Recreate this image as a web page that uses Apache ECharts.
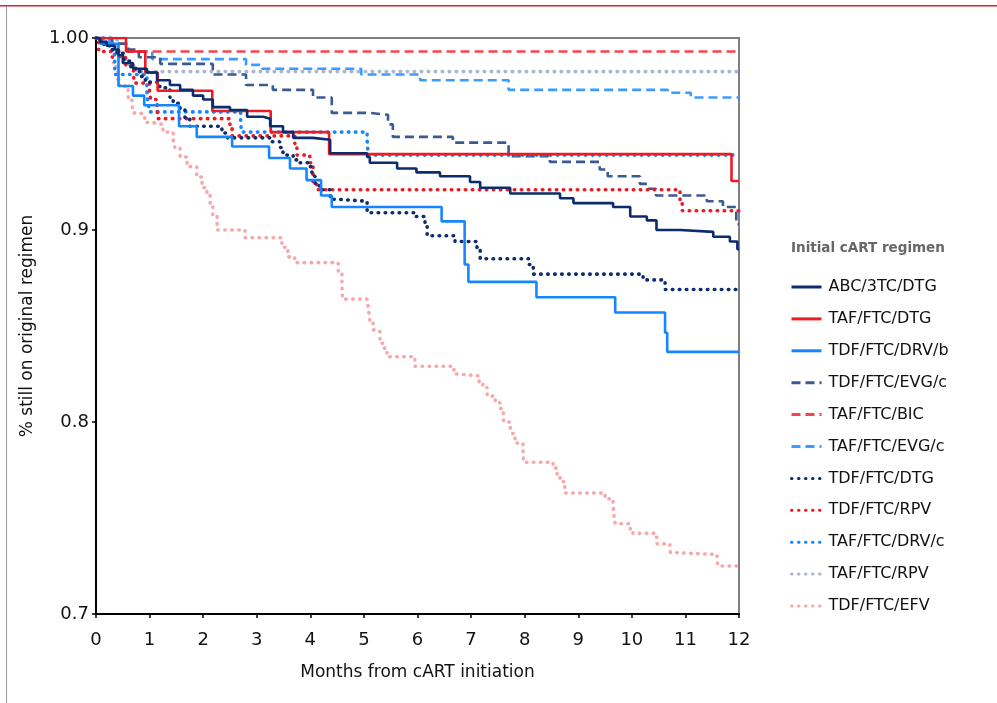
<!DOCTYPE html>
<html><head><meta charset="utf-8">
<script src="https://cdn.jsdelivr.net/npm/echarts@6/dist/echarts.min.js"></script>
<style>html,body{margin:0;padding:0;background:#fff}#c{width:997px;height:703px}</style>
</head><body><div id="c"></div>
<script>
// Data: [month, proportion still on original regimen]
const xTicks = [0,1,2,3,4,5,6,7,8,9,10,11,12];
const yTicks = [0.7,0.8,0.9,1.0];
const regimenNames = ['ABC/3TC/DTG','TAF/FTC/DTG','TDF/FTC/DRV/b','TDF/FTC/EVG/c','TAF/FTC/BIC','TAF/FTC/EVG/c','TDF/FTC/DTG','TDF/FTC/RPV','TAF/FTC/DRV/c','TAF/FTC/RPV','TDF/FTC/EFV'];

const abc3tcDtg = [[0,1],[0.07,0.998],[0.2,0.996],[0.35,0.994],[0.42,0.991],[0.5,0.987],[0.69,0.984],[0.95,0.982],[1.14,0.978],[1.38,0.9755],[1.57,0.973],[1.81,0.970],[2.0,0.968],[2.18,0.964],[2.5,0.9625],[2.82,0.959],[3.12,0.958],[3.25,0.954],[3.49,0.951],[3.68,0.948],[4.05,0.947],[4.37,0.940],[5.06,0.938],[5.11,0.935],[5.62,0.932],[5.98,0.930],[6.42,0.928],[6.98,0.925],[7.17,0.922],[7.73,0.919],[8.66,0.9165],[8.91,0.914],[9.65,0.912],[9.97,0.907],[10.28,0.905],[10.46,0.900],[10.9,0.899],[11.52,0.8965],[11.83,0.894],[11.97,0.89],[12,0.89]];
const tafFtcDtg = [[0,1],[0.56,0.993],[0.92,0.982],[1.15,0.9725],[2.17,0.962],[3.26,0.951],[4.35,0.9395],[11.86,0.9255],[12,0.9255]];
const tdfFtcDrvB = [[0,1],[0.08,0.997],[0.42,0.975],[0.69,0.970],[0.9,0.965],[1.55,0.954],[1.88,0.9485],[2.54,0.9435],[3.23,0.9375],[3.62,0.932],[3.93,0.926],[4.2,0.918],[4.4,0.912],[6.45,0.9045],[6.88,0.882],[6.95,0.873],[8.22,0.865],[9.69,0.857],[10.62,0.8465],[10.66,0.8365],[12,0.8365]];
const tdfFtcEvgC = [[0,1],[0.3,0.997],[0.6,0.994],[0.8,0.99],[1.2,0.9865],[2.18,0.981],[2.8,0.9755],[3.3,0.973],[4.05,0.969],[4.4,0.961],[5.1,0.96],[5.45,0.955],[5.54,0.9485],[6.66,0.9455],[7.7,0.9385],[8.47,0.9355],[9.4,0.9315],[9.55,0.928],[10.15,0.924],[10.3,0.9215],[10.45,0.918],[11.4,0.915],[11.7,0.912],[11.95,0.903],[12,0.903]];
const tafFtcBic = [[0,1],[0.3,0.997],[0.6,0.993],[12,0.993]];
const tafFtcEvgC = [[0,1],[0.25,0.997],[0.6,0.993],[1.05,0.989],[2.8,0.986],[3.1,0.984],[4.95,0.981],[6.05,0.978],[7.7,0.973],[10.67,0.9715],[11.1,0.969],[12,0.969]];
const tdfFtcDtg = [[0,1],[0.09,0.998],[0.15,0.996],[0.27,0.994],[0.39,0.992],[0.52,0.988],[0.65,0.985],[0.74,0.9825],[0.83,0.980],[0.92,0.977],[1.19,0.974],[1.38,0.969],[1.44,0.966],[1.57,0.9625],[1.66,0.958],[1.75,0.954],[2.35,0.9505],[2.45,0.948],[3.28,0.946],[3.43,0.943],[3.49,0.939],[3.68,0.9365],[3.81,0.935],[3.96,0.933],[4.03,0.928],[4.09,0.923],[4.18,0.921],[4.37,0.916],[4.5,0.915],[5.06,0.909],[5.95,0.907],[6.14,0.902],[6.18,0.897],[6.7,0.894],[7.11,0.89],[7.17,0.885],[8.08,0.882],[8.16,0.877],[10.21,0.874],[10.62,0.869],[12,0.869]];
const tdfFtcRpv = [[0,1],[0.05,0.993],[0.3,0.99],[0.55,0.986],[0.7,0.98],[0.72,0.9765],[1.0,0.972],[1.02,0.968],[1.14,0.9625],[1.16,0.958],[2.5,0.9535],[2.54,0.949],[3.71,0.945],[3.75,0.939],[3.99,0.935],[4.05,0.9245],[4.12,0.921],[10.9,0.9156],[10.94,0.910],[12,0.910]];
const tafFtcDrvC = [[0,1],[0.3,0.993],[0.35,0.981],[0.95,0.972],[0.97,0.966],[1.0,0.9615],[2.7,0.955],[2.72,0.951],[5.06,0.947],[5.08,0.939],[12,0.939]];
const tafFtcRpv = [[0,1],[0.15,0.999],[0.4,0.993],[0.5,0.989],[0.6,0.9855],[0.75,0.9825],[12,0.9825]];
const tdfFtcEfv = [[0,1],[0.1,0.998],[0.26,0.994],[0.33,0.985],[0.41,0.9755],[0.54,0.973],[0.6,0.969],[0.67,0.966],[0.69,0.961],[0.82,0.96],[0.91,0.956],[1.06,0.955],[1.25,0.951],[1.44,0.947],[1.47,0.943],[1.57,0.938],[1.7,0.933],[1.88,0.9276],[1.98,0.922],[2.07,0.918],[2.13,0.913],[2.18,0.907],[2.26,0.900],[2.78,0.896],[3.47,0.891],[3.58,0.886],[3.71,0.883],[4.52,0.880],[4.53,0.877],[4.59,0.871],[4.6,0.864],[5.06,0.8625],[5.08,0.86],[5.11,0.853],[5.17,0.848],[5.26,0.847],[5.3,0.841],[5.36,0.8385],[5.43,0.834],[5.95,0.829],[6.68,0.825],[6.76,0.824],[7.15,0.820],[7.22,0.818],[7.3,0.8135],[7.45,0.810],[7.54,0.807],[7.6,0.803],[7.61,0.800],[7.73,0.797],[7.76,0.794],[7.82,0.789],[7.97,0.785],[7.98,0.779],[8.53,0.776],[8.59,0.773],[8.66,0.769],[8.75,0.763],[9.5,0.760],[9.65,0.757],[9.67,0.750],[9.69,0.747],[9.97,0.744],[10.02,0.742],[10.43,0.740],[10.47,0.7365],[10.71,0.7354],[10.72,0.732],[10.77,0.731],[11.59,0.728],[11.61,0.725],[12,0.725]];

const seriesData = [abc3tcDtg,tafFtcDtg,tdfFtcDrvB,tdfFtcEvgC,tafFtcBic,tafFtcEvgC,tdfFtcDtg,tdfFtcRpv,tafFtcDrvC,tafFtcRpv,tdfFtcEfv];
const seriesColors = ['#0b2c6d','#ec1c24','#1486ff','#3a5a92','#f2454e','#3a9cff','#0b2c6d','#e81c24','#1486ff','#a9b6d0','#f6a8aa'];
const seriesStyles = ['solid','solid','solid','dashed','dashed','dashed','dotted','dotted','dotted','dotted','dotted'];

function lineStyleFor(kind, color){
  if (kind === 'solid') return {color, width:2.6, type:'solid'};
  if (kind === 'dashed') return {color, width:2.6, type:[9,5], cap:'butt'};
  return {color, width:3.6, type:[0.5,6.5], cap:'round'};
}
const drawOrder = [10,9,5,4,3,8,7,6,2,1,0];
const series = drawOrder.map(i => ({
  name: regimenNames[i], type:'line', step:'end', symbol:'none', showSymbol:false,
  data: seriesData[i], lineStyle: lineStyleFor(seriesStyles[i], seriesColors[i]),
  itemStyle:{color: seriesColors[i]}, z: 2, animation:false
}));

const font = 'DejaVu Sans';
const chart = echarts.init(document.getElementById('c'), null, {renderer:'canvas'});
chart.setOption({
  animation:false,
  backgroundColor:'#fff',
  textStyle:{fontFamily:font},
  title:{text:'Initial cART regimen', left:791, top:241, padding:0, textStyle:{fontFamily:font, fontSize:13.5, fontWeight:'bold', color:'#666'}},
  legend:{
    data: regimenNames, orient:'vertical', left:790, top:279, padding:0,
    itemWidth:30, itemHeight:14, itemGap:15.9,
    itemStyle:{opacity:0, borderWidth:0},
    lineStyle:{width:3},
    textStyle:{fontFamily:font, fontSize:16, color:'#111', padding:[0,0,0,2]}
  },
  grid:{left:96, top:38, right:258, bottom:89, show:true, borderColor:'#808080', borderWidth:2, backgroundColor:'transparent'},
  xAxis:{
    type:'value', min:0, max:12, interval:1,
    name:'Months from cART initiation', nameLocation:'middle', nameGap:50,
    nameTextStyle:{fontFamily:font, fontSize:17, color:'#111'},
    axisLine:{show:true, onZero:false, lineStyle:{color:'#000', width:2}},
    axisTick:{show:true, inside:false, length:4, lineStyle:{color:'#000', width:1.5}},
    axisLabel:{fontFamily:font, fontSize:18, color:'#111', margin:17, formatter:v=>String(Math.round(v))},
    splitLine:{show:false}
  },
  yAxis:{
    type:'value', min:0.7, max:1.0, interval:0.1,
    name:'% still on original regimen', nameLocation:'middle', nameGap:60,
    nameTextStyle:{fontFamily:font, fontSize:17, color:'#111'},
    axisLine:{show:true, onZero:false, lineStyle:{color:'#000', width:2}},
    axisTick:{show:true, inside:false, length:4, lineStyle:{color:'#000', width:1.5}},
    axisLabel:{fontFamily:font, fontSize:18, color:'#111', margin:7,
      formatter:v=>{const r=Math.round(v*10)/10; return r===1?'1.00':r.toFixed(1);}},
    splitLine:{show:false}
  },
  graphic:[
    {type:'rect', shape:{x:0,y:5,width:997,height:1.5}, style:{fill:'#e31e24'}, silent:true, z:100},
    {type:'rect', shape:{x:6,y:6,width:1,height:697}, style:{fill:'#9a9a9a'}, silent:true, z:100}
  ],
  series
});
</script></body></html>
